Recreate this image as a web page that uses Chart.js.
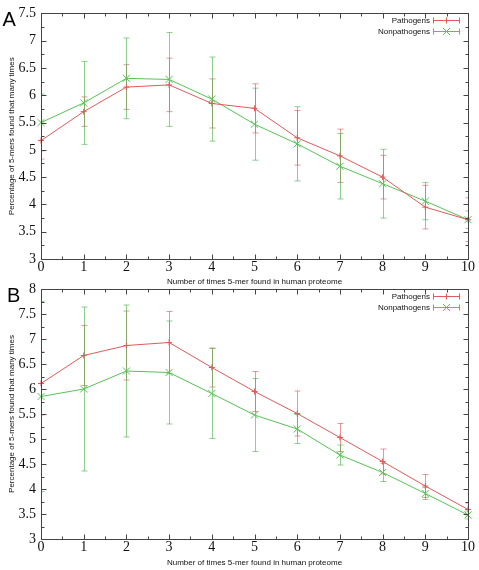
<!DOCTYPE html>
<html>
<head>
<meta charset="utf-8">
<script src="https://cdn.jsdelivr.net/npm/chart.js@4/dist/chart.umd.min.js"></script>
<style>
body { margin: 0; background: #fff; }
#wrap { position: relative; width: 479px; height: 570px; }
canvas { position: absolute; left: 0; top: 0; }
</style>
</head>
<body>
<div id="wrap">
<canvas id="chartA" width="479" height="570"></canvas>
<canvas id="chartB" width="479" height="570"></canvas>
</div>
<script>
// x: number of times a 5-mer is found in the human proteome
const counts = [0, 1, 2, 3, 4, 5, 6, 7, 8, 9, 10];

// panel A
const pathA    = [5.17, 5.70, 6.15, 6.19, 5.85, 5.76, 5.22, 4.89, 4.50, 3.95, 3.72];
const pathAErr = [0.34, 0.27, 0.41, 0.49, 0.45, 0.45, 0.50, 0.49, 0.40, 0.40, 0.40];
const nonA     = [5.50, 5.86, 6.31, 6.29, 5.93, 5.47, 5.11, 4.70, 4.38, 4.06, 3.72];
const nonAErr  = [0.52, 0.76, 0.74, 0.86, 0.77, 0.66, 0.68, 0.60, 0.63, 0.34, 0.16];

// panel B
const pathB    = [6.11, 6.67, 6.87, 6.93, 6.43, 5.95, 5.51, 5.03, 4.55, 4.06, 3.59];
const pathBErr = [0.63, 0.60, 0.69, 0.62, 0.39, 0.40, 0.45, 0.28, 0.25, 0.23, 0.13];
const nonB     = [5.85, 6.00, 6.36, 6.33, 5.91, 5.48, 5.20, 4.68, 4.33, 3.91, 3.48];
const nonBErr  = [1.90, 1.64, 1.32, 1.03, 0.90, 0.73, 0.29, 0.20, 0.18, 0.12, 0.08];

const RED = '#e05a5a', GREEN = '#55c455';
const RED_ERR = 'rgba(215,70,70,0.55)', GREEN_ERR = 'rgba(70,175,70,0.6)';
const SERIF = "'Liberation Serif', 'Times New Roman', 'DejaVu Serif Condensed', serif";
const SANS = "'Liberation Sans', Arial, sans-serif";

function pts(vals) {
  return counts.map((c, i) => ({ x: c, y: vals[i] }));
}

// error bars, frame with inward ticks, legend and panel letter
const decor = {
  id: 'decor',
  beforeDatasetsDraw(chart) {
    const ctx = chart.ctx, a = chart.chartArea;
    const xs = chart.scales.x, ys = chart.scales.y;
    ctx.save();
    ctx.beginPath();
    ctx.rect(a.left, a.top, a.right - a.left, a.bottom - a.top);
    ctx.clip();
    ctx.lineWidth = 1;
    chart.data.datasets.forEach(ds => {
      ctx.strokeStyle = ds.errColor;
      ds.data.forEach((p, i) => {
        const e = ds.errors[i];
        const x = Math.round(xs.getPixelForValue(p.x)) + 0.5;
        const y1 = ys.getPixelForValue(p.y - e);
        const y2 = ys.getPixelForValue(p.y + e);
        ctx.beginPath();
        ctx.moveTo(x, y1); ctx.lineTo(x, y2);
        ctx.moveTo(x - 3, y1); ctx.lineTo(x + 3, y1);
        ctx.moveTo(x - 3, y2); ctx.lineTo(x + 3, y2);
        ctx.stroke();
      });
    });
    ctx.restore();
  },
  afterDraw(chart, args, opts) {
    const ctx = chart.ctx, a = chart.chartArea;
    const xs = chart.scales.x, ys = chart.scales.y;
    ctx.save();
    ctx.strokeStyle = '#444';
    ctx.lineWidth = 1;
    const L = Math.round(a.left) + 0.5, R = Math.round(a.right) + 0.5;
    const T = Math.round(a.top) + 0.5, B = Math.round(a.bottom) + 0.5;
    ctx.strokeRect(L, T, R - L, B - T);
    ctx.beginPath();
    for (let v = xs.min; v <= xs.max + 1e-9; v += 0.5) {
      const len = Number.isInteger(v) ? 5 : 3;
      const x = Math.round(xs.getPixelForValue(v)) + 0.5;
      ctx.moveTo(x, B); ctx.lineTo(x, B - len);
      ctx.moveTo(x, T); ctx.lineTo(x, T + len);
    }
    for (let v = ys.min; v <= ys.max + 1e-9; v += 0.25) {
      const len = Math.abs(v * 2 - Math.round(v * 2)) < 1e-9 ? 5 : 3;
      const y = Math.round(ys.getPixelForValue(v)) + 0.5;
      ctx.moveTo(L, y); ctx.lineTo(L + len, y);
      ctx.moveTo(R, y); ctx.lineTo(R - len, y);
    }
    ctx.stroke();

    // legend
    ctx.font = '8px ' + SANS;
    ctx.textAlign = 'right';
    ctx.textBaseline = 'middle';
    chart.data.datasets.forEach((ds, i) => {
      const y = Math.round(a.top + 7 + i * 10.5) + 0.5;
      const x0 = a.right - 35, x1 = a.right - 8, xm = (x0 + x1) / 2;
      ctx.fillStyle = '#111';
      ctx.fillText(ds.label, a.right - 38, y);
      ctx.strokeStyle = ds.borderColor;
      ctx.beginPath();
      ctx.moveTo(x0, y); ctx.lineTo(x1, y);
      ctx.moveTo(x0 + 0.5, y - 3); ctx.lineTo(x0 + 0.5, y + 3);
      ctx.moveTo(x1 - 0.5, y - 3); ctx.lineTo(x1 - 0.5, y + 3);
      if (ds.pointStyle === 'cross') {
        ctx.moveTo(xm, y - 3); ctx.lineTo(xm, y + 3);
      } else {
        ctx.moveTo(xm - 3.5, y - 3.5); ctx.lineTo(xm + 3.5, y + 3.5);
        ctx.moveTo(xm - 3.5, y + 3.5); ctx.lineTo(xm + 3.5, y - 3.5);
      }
      ctx.stroke();
    });

    // panel letter
    ctx.fillStyle = '#000';
    ctx.textAlign = 'left';
    ctx.textBaseline = 'alphabetic';
    ctx.font = '20px ' + SANS;
    ctx.fillText(opts.letter, opts.lx, a.top + 12.5);
    ctx.restore();
  }
};

function makeChart(id, letter, lx, path, pathErr, non, nonErr, yMax, pad, xHeight, titlePad) {
  return new Chart(id, {
    type: 'line',
    data: {
      datasets: [{
        label: 'Pathogens',
        data: pts(path),
        errors: pathErr,
        errColor: RED_ERR,
        borderColor: RED,
        backgroundColor: RED,
        borderWidth: 1,
        pointStyle: 'cross',
        pointRadius: 3,
        pointBorderColor: RED,
        pointBorderWidth: 1,
        clip: 8
      }, {
        label: 'Nonpathogens',
        data: pts(non),
        errors: nonErr,
        errColor: GREEN_ERR,
        borderColor: GREEN,
        backgroundColor: GREEN,
        borderWidth: 1,
        pointStyle: 'crossRot',
        pointRadius: 5,
        pointBorderColor: GREEN,
        pointBorderWidth: 1,
        clip: 8
      }]
    },
    options: {
      responsive: false,
      animation: false,
      layout: { padding: pad },
      plugins: {
        legend: { display: false },
        tooltip: { enabled: false },
        decor: { letter: letter, lx: lx }
      },
      scales: {
        x: {
          type: 'linear',
          min: 0,
          max: 10,
          grid: { display: false, drawTicks: false },
          border: { display: false },
          ticks: {
            stepSize: 1, padding: 0, color: '#111', maxRotation: 0,
            font: { family: SERIF, size: 14 },
            callback: v => String(v)
          },
          title: {
            display: true,
            text: 'Number of times 5-mer found in human proteome',
            color: '#111',
            font: { family: SANS, size: 8 },
            padding: { top: 0, bottom: titlePad }
          },
          afterFit: s => { s.height = xHeight; }
        },
        y: {
          type: 'linear',
          min: 3,
          max: yMax,
          grid: { display: false, drawTicks: false },
          border: { display: false },
          ticks: {
            stepSize: 0.5, padding: 5, color: '#111',
            font: { family: SERIF, size: 14 },
            callback: v => String(v)
          },
          title: {
            display: true,
            text: 'Percentage of 5-mers found that many times',
            color: '#111',
            font: { family: SANS, size: 8 },
            padding: { top: 7.2, bottom: 0 }
          },
          afterFit: s => { s.width = 41; }
        }
      }
    },
    plugins: [decor]
  });
}

makeChart('chartA', 'A', 2.5, pathA, pathAErr, nonA, nonAErr, 7.5,
  { top: 9, bottom: 283, left: 0, right: 11 }, 28, 0);
makeChart('chartB', 'B', 7, pathB, pathBErr, nonB, nonBErr, 8,
  { top: 289, bottom: 0, left: 0, right: 11 }, 31, 2.2);
</script>
</body>
</html>
